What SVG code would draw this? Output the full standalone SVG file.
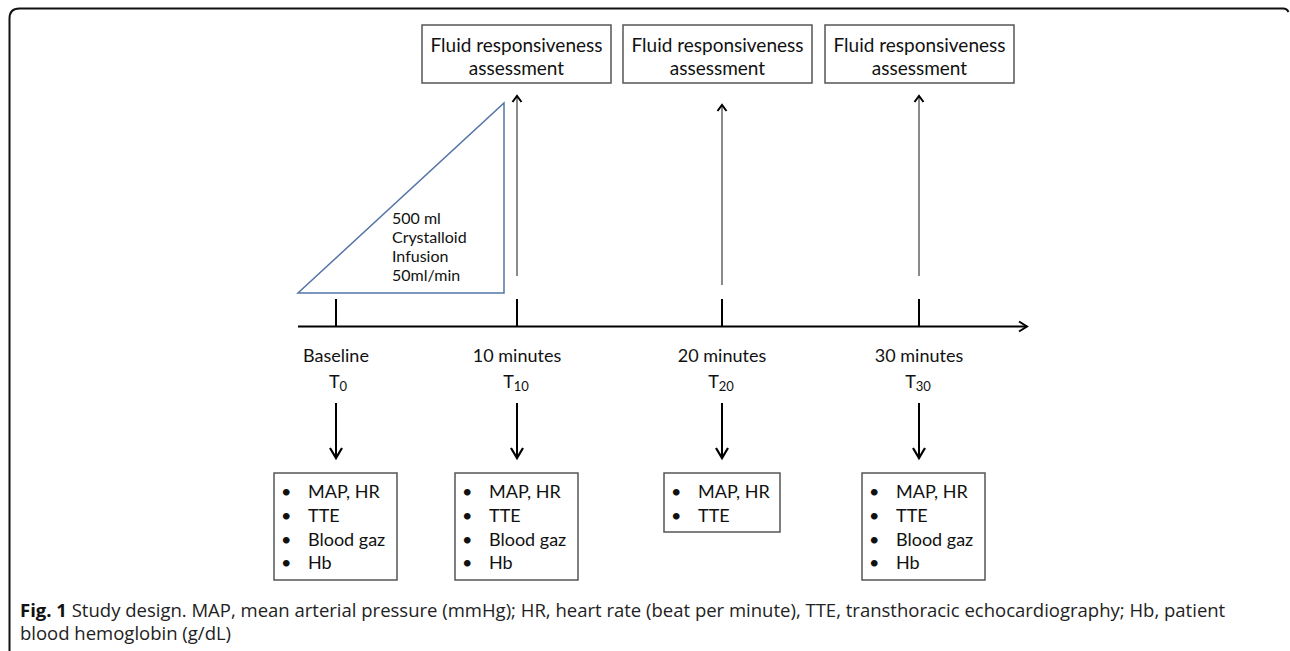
<svg xmlns="http://www.w3.org/2000/svg" width="1290" height="651" viewBox="0 0 1290 651">
<style>
  .t { font-family: Lato, "Open Sans", "Liberation Sans", sans-serif; fill: #111; }
  .hdr { font-size: 19px; text-anchor: middle; }
  .lab { font-size: 18px; text-anchor: middle; }
  .item { font-size: 18px; }
  .tri { font-size: 16px; }
  .sub { font-size: 13px; }
  .box { fill: #fff; stroke: #555; stroke-width: 1.5; }
  .up { stroke: #8a8a8a; stroke-width: 2; fill: none; marker-end: url(#upHead); }
  .down { stroke: #000; stroke-width: 2; fill: none; marker-end: url(#downHead); }
  .tick { stroke: #000; stroke-width: 2; }
  .cap { font-family: "Open Sans", "Noto Sans", "Liberation Sans", sans-serif; font-size: 18.5px; fill: #222; }
</style>
<defs>
  <marker id="upHead" markerUnits="userSpaceOnUse" viewBox="-10 -7 12 14" refX="0" refY="0" markerWidth="12" markerHeight="14" orient="auto" overflow="visible">
    <path d="M-6,-4.5 L0,0 L-6,4.5" fill="none" stroke="#000" stroke-width="2"/>
  </marker>
  <marker id="downHead" markerUnits="userSpaceOnUse" viewBox="-12 -8 14 16" refX="0" refY="0" markerWidth="14" markerHeight="16" orient="auto" overflow="visible">
    <path d="M-10,-6 L0,0 L-10,6" fill="none" stroke="#000" stroke-width="2.2"/>
  </marker>
  <marker id="axisHead" markerUnits="userSpaceOnUse" viewBox="-10 -7 12 14" refX="0" refY="0" markerWidth="12" markerHeight="14" orient="auto" overflow="visible">
    <path d="M-8,-5 L0,0 L-8,5" fill="none" stroke="#000" stroke-width="2"/>
  </marker>
</defs>

<rect width="1290" height="651" fill="#fff"/>
<path id="frame" d="M9.5,651 V18.5 Q9.5,8.5 19.5,8.5 H1283 Q1287,8.5 1288.5,12" fill="none" stroke="#111" stroke-width="2"/>

<g id="assess1">
  <rect class="box" x="422" y="25" width="189" height="58"/>
  <text class="t hdr" x="516.5" y="52">Fluid responsiveness</text>
  <text class="t hdr" x="516.5" y="75">assessment</text>
</g>
<g id="assess2">
  <rect class="box" x="623" y="25" width="189" height="58"/>
  <text class="t hdr" x="717.5" y="52">Fluid responsiveness</text>
  <text class="t hdr" x="717.5" y="75">assessment</text>
</g>
<g id="assess3">
  <rect class="box" x="825" y="25" width="189" height="58"/>
  <text class="t hdr" x="919.5" y="52">Fluid responsiveness</text>
  <text class="t hdr" x="919.5" y="75">assessment</text>
</g>

<g id="infusion">
  <path d="M298,293 H504 V103 Z" fill="none" stroke="#5575a8" stroke-width="1.5"/>
  <text class="t tri" x="392" y="224">500 ml</text>
  <text class="t tri" x="392" y="243">Crystalloid</text>
  <text class="t tri" x="392" y="262">Infusion</text>
  <text class="t tri" x="392" y="281">50ml/min</text>
</g>

<g id="connectors">
  <line class="up" x1="517" y1="276" x2="517" y2="96"/>
  <line class="up" x1="722" y1="285" x2="722" y2="105"/>
  <line class="up" x1="919" y1="276" x2="919" y2="96"/>
  <line x1="298" y1="326.5" x2="1027" y2="326.5" stroke="#000" stroke-width="2" marker-end="url(#axisHead)"/>
  <line class="tick" x1="336" y1="299" x2="336" y2="326"/>
  <line class="tick" x1="517" y1="299" x2="517" y2="326"/>
  <line class="tick" x1="722" y1="299" x2="722" y2="326"/>
  <line class="tick" x1="919" y1="299" x2="919" y2="326"/>
  <line class="down" x1="336" y1="403" x2="336" y2="458"/>
  <line class="down" x1="517" y1="403" x2="517" y2="458"/>
  <line class="down" x1="722" y1="403" x2="722" y2="458"/>
  <line class="down" x1="919" y1="403" x2="919" y2="458"/>
</g>

<g id="t0">
  <text class="t lab" x="336" y="362">Baseline</text>
  <text class="t lab" x="338" y="388">T<tspan class="sub" dy="3">0</tspan></text>
</g>
<g id="t10">
  <text class="t lab" x="517" y="362">10 minutes</text>
  <text class="t lab" x="516" y="388">T<tspan class="sub" dy="3">10</tspan></text>
</g>
<g id="t20">
  <text class="t lab" x="722" y="362">20 minutes</text>
  <text class="t lab" x="721" y="388">T<tspan class="sub" dy="3">20</tspan></text>
</g>
<g id="t30">
  <text class="t lab" x="919" y="362">30 minutes</text>
  <text class="t lab" x="918" y="388">T<tspan class="sub" dy="3">30</tspan></text>
</g>

<g id="list0">
  <rect class="box" x="274" y="473" width="123" height="107"/>
  <text class="t item" x="281" y="498">•</text><text class="t item" x="308" y="498">MAP, HR</text>
  <text class="t item" x="281" y="522">•</text><text class="t item" x="308" y="522">TTE</text>
  <text class="t item" x="281" y="546">•</text><text class="t item" x="308" y="546">Blood gaz</text>
  <text class="t item" x="281" y="569">•</text><text class="t item" x="308" y="569">Hb</text>
</g>
<g id="list10">
  <rect class="box" x="455" y="473" width="123" height="107"/>
  <text class="t item" x="462" y="498">•</text><text class="t item" x="489" y="498">MAP, HR</text>
  <text class="t item" x="462" y="522">•</text><text class="t item" x="489" y="522">TTE</text>
  <text class="t item" x="462" y="546">•</text><text class="t item" x="489" y="546">Blood gaz</text>
  <text class="t item" x="462" y="569">•</text><text class="t item" x="489" y="569">Hb</text>
</g>
<g id="list20">
  <rect class="box" x="664" y="473" width="116" height="59"/>
  <text class="t item" x="671" y="498">•</text><text class="t item" x="698" y="498">MAP, HR</text>
  <text class="t item" x="671" y="522">•</text><text class="t item" x="698" y="522">TTE</text>
</g>
<g id="list30">
  <rect class="box" x="862" y="473" width="123" height="107"/>
  <text class="t item" x="869" y="498">•</text><text class="t item" x="896" y="498">MAP, HR</text>
  <text class="t item" x="869" y="522">•</text><text class="t item" x="896" y="522">TTE</text>
  <text class="t item" x="869" y="546">•</text><text class="t item" x="896" y="546">Blood gaz</text>
  <text class="t item" x="869" y="569">•</text><text class="t item" x="896" y="569">Hb</text>
</g>

<g id="caption">
  <text class="cap" x="20" y="617"><tspan font-weight="bold" fill="#111">Fig. 1</tspan> Study design. MAP, mean arterial pressure (mmHg); HR, heart rate (beat per minute), TTE, transthoracic echocardiography; Hb, patient<tspan x="20" y="640">blood hemoglobin (g/dL)</tspan></text>
</g>
</svg>
